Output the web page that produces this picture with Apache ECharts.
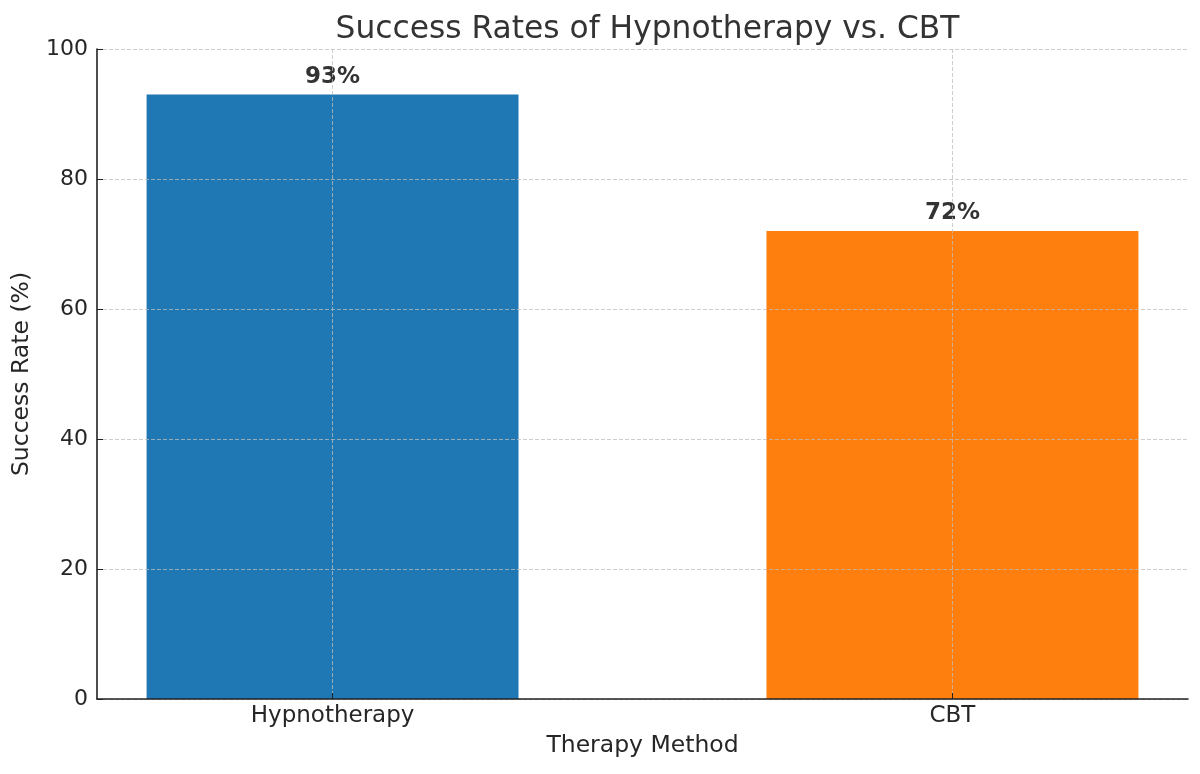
<!DOCTYPE html>
<html>
<head>
<meta charset="utf-8">
<script src="https://cdn.jsdelivr.net/npm/echarts@6/dist/echarts.min.js"></script>
<style>html,body{margin:0;padding:0;background:#fff}#c{width:1200px;height:774px}</style>
</head>
<body>
<div id="c"></div>
<script>
const categories = ['Hypnotherapy', 'CBT'];
const successRates = [93, 72];
const barColors = ['#1f77b4', '#ff7f0e'];
const yTicks = [0, 20, 40, 60, 80, 100];

const FONT = 'DejaVu Sans';
const gridL = 97, gridR = 12, gridT = 49, gridB = 75;
const plotW = 1200 - gridL - gridR;
const xMin = -0.38, xMax = 1.38;
const barW = 0.6 * plotW / (xMax - xMin);
const catPos = categories.map((c, i) => i);
const gridColor = 'rgba(190,190,190,0.75)';

const chart = echarts.init(document.getElementById('c'), null, {renderer: 'canvas'});
chart.setOption({
  animation: false,
  backgroundColor: '#fff',
  title: {
    text: 'Success Rates of Hypnotherapy vs. CBT',
    left: gridL + plotW / 2,
    textAlign: 'center',
    top: 9,
    textStyle: {fontFamily: FONT, fontSize: 31.3, fontWeight: 'normal', color: '#333'}
  },
  grid: {left: gridL, right: gridR, top: gridT, bottom: gridB, containLabel: false},
  xAxis: {
    type: 'value',
    min: xMin,
    max: xMax,
    z: 5,
    name: 'Therapy Method',
    nameLocation: 'middle',
    nameGap: 35,
    nameTextStyle: {fontFamily: FONT, fontSize: 23.5, color: '#262626'},
    axisLine: {show: true, onZero: false, lineStyle: {color: '#222', width: 1.6}},
    axisTick: {show: true, inside: true, length: 6, customValues: catPos, lineStyle: {color: '#222'}},
    axisLabel: {
      show: true, customValues: catPos, margin: 6,
      fontFamily: FONT, fontSize: 23, color: '#262626',
      formatter: v => categories[Math.round(v)]
    },
    splitLine: {show: true, lineStyle: {color: gridColor, type: [4, 2], width: 1}}
  },
  yAxis: {
    type: 'value',
    min: 0,
    max: 100,
    interval: 20,
    z: 5,
    name: 'Success Rate (%)',
    nameLocation: 'middle',
    nameGap: 63,
    nameTextStyle: {fontFamily: FONT, fontSize: 23.5, color: '#262626'},
    axisLine: {show: true, onZero: false, lineStyle: {color: '#222', width: 1.6}},
    axisTick: {show: true, inside: true, length: 6, lineStyle: {color: '#222'}},
    axisLabel: {margin: 9, fontFamily: FONT, fontSize: 22, color: '#262626',
      formatter: v => yTicks.includes(v) ? String(v) : ''},
    splitLine: {show: true, lineStyle: {color: gridColor, type: [4, 2], width: 1}}
  },
  series: [{
    type: 'bar',
    barWidth: barW,
    z: 2,
    data: successRates.map((v, i) => ({value: [catPos[i], v], itemStyle: {color: barColors[i]}})),
    label: {
      show: true,
      position: 'top',
      distance: 6,
      fontFamily: FONT,
      fontSize: 23,
      fontWeight: 'bold',
      color: '#333',
      formatter: p => p.value[1] + '%'
    }
  }]
});
</script>
</body>
</html>
